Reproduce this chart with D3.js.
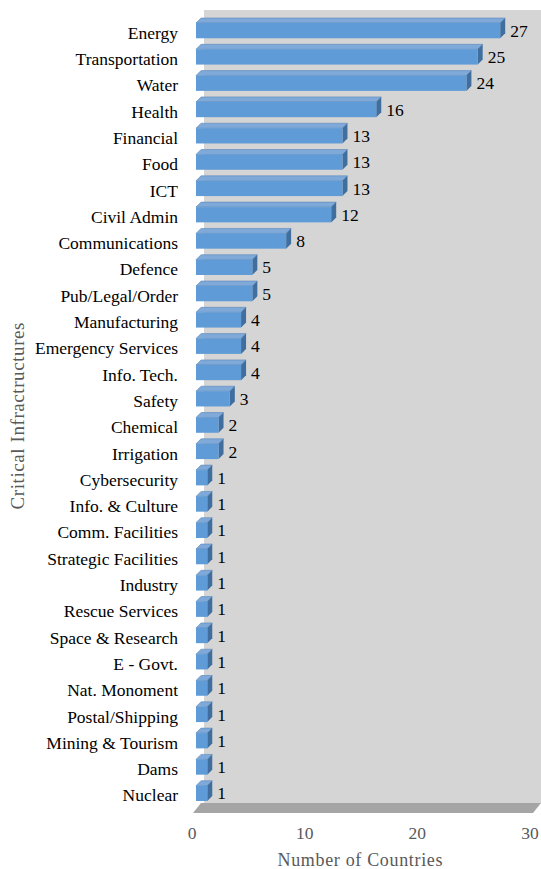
<!DOCTYPE html>
<html>
<head>
<meta charset="utf-8">
<script src="https://cdn.jsdelivr.net/npm/d3@7.9.0/dist/d3.min.js"></script>
<style>
  body { margin: 0; background: #fff; }
  svg { display: block; font-family: "Liberation Serif", "Times New Roman", serif; }
</style>
</head>
<body>
<svg id="chart" width="541" height="869"></svg>
<script>
// data
const categories = ["Energy", "Transportation", "Water", "Health", "Financial", "Food", "ICT",
  "Civil Admin", "Communications", "Defence", "Pub/Legal/Order", "Manufacturing",
  "Emergency Services", "Info. Tech.", "Safety", "Chemical", "Irrigation", "Cybersecurity",
  "Info. & Culture", "Comm. Facilities", "Strategic Facilities", "Industry", "Rescue Services",
  "Space & Research", "E - Govt.", "Nat. Monoment", "Postal/Shipping", "Mining & Tourism",
  "Dams", "Nuclear"];
const counts = [27, 25, 24, 16, 13, 13, 13, 12, 8, 5, 5, 4, 4, 4, 3, 2, 2,
  1, 1, 1, 1, 1, 1, 1, 1, 1, 1, 1, 1, 1];
const xTicks = [0, 10, 20, 30];

const svg = d3.select('#chart');
const dx = 5, dy = 5; // 3d depth offset

const x = d3.scaleLinear().domain([0, 30]).range([196, 534]);
const y = d3.scaleBand().domain(categories).range([17.5, 806.5]).paddingInner(0.42).paddingOuter(0.21);

/* back wall and floor */
const wallTop = 10, floorBack = 803, floorFront = 813;
svg.append('rect')
  .attr('x', x(0) + 8).attr('y', wallTop)
  .attr('width', 541 - x(0) - 8).attr('height', floorBack - wallTop)
  .attr('fill', '#d5d5d5');
svg.append('polygon')
  .attr('points', [[x(0) - 3, floorFront], [x(30) - 1, floorFront], [541, floorBack], [x(0) + 5, floorBack]].join(' '))
  .attr('fill', '#a5a5a5');

/* bars */
const bars = svg.append('g').selectAll('g')
  .data(categories.map((c, i) => ({ label: c, value: counts[i] })))
  .join('g');

bars.append('polygon') // top face
  .attr('points', d => {
    let x0 = x(0), x1 = x(d.value), t = y(d.label);
    return [[x0, t], [x0 + dx, t - dy], [x1 + dx, t - dy], [x1, t]].join(' ');
  })
  .attr('fill', '#7ea9d8').attr('stroke', '#5a86b8').attr('stroke-width', 0.6);

bars.append('polygon') // side face
  .attr('points', d => {
    let x1 = x(d.value), t = y(d.label), b = t + y.bandwidth();
    return [[x1, t], [x1 + dx, t - dy], [x1 + dx, b - dy], [x1, b]].join(' ');
  })
  .attr('fill', '#3f6e9f');

bars.append('rect') // front face
  .attr('x', x(0))
  .attr('y', d => y(d.label))
  .attr('width', d => x(d.value) - x(0))
  .attr('height', y.bandwidth())
  .attr('fill', '#5f9bd6');

bars.append('text')
  .attr('x', d => x(d.value) + dx + 5)
  .attr('y', d => y(d.label) + y.bandwidth() / 2)
  .attr('dy', '0.35em')
  .attr('font-size', 17.5)
  .attr('fill', '#000')
  .text(d => d.value);

/* category labels */
svg.append('g').selectAll('text')
  .data(categories)
  .join('text')
  .attr('x', 178)
  .attr('y', d => y(d) + y.bandwidth() / 2 + 2)
  .attr('dy', '0.35em')
  .attr('text-anchor', 'end')
  .attr('font-size', 17.5)
  .attr('fill', '#000')
  .text(d => d);

/* x ticks */
svg.append('g').selectAll('text')
  .data(xTicks)
  .join('text')
  .attr('x', d => x(d) - 4)
  .attr('y', 839)
  .attr('text-anchor', 'middle')
  .attr('font-size', 17.5)
  .attr('fill', '#595959')
  .text(d => d);

/* axis titles */
svg.append('text')
  .attr('x', 360).attr('y', 866)
  .attr('text-anchor', 'middle')
  .attr('font-size', 18)
  .attr('textLength', 165)
  .attr('fill', '#595959')
  .text('Number of Countries');

svg.append('text')
  .attr('transform', 'translate(24,416) rotate(-90)')
  .attr('text-anchor', 'middle')
  .attr('font-size', 19)
  .attr('textLength', 187)
  .attr('fill', '#595959')
  .text('Critical Infractructures');
</script>
</body>
</html>
